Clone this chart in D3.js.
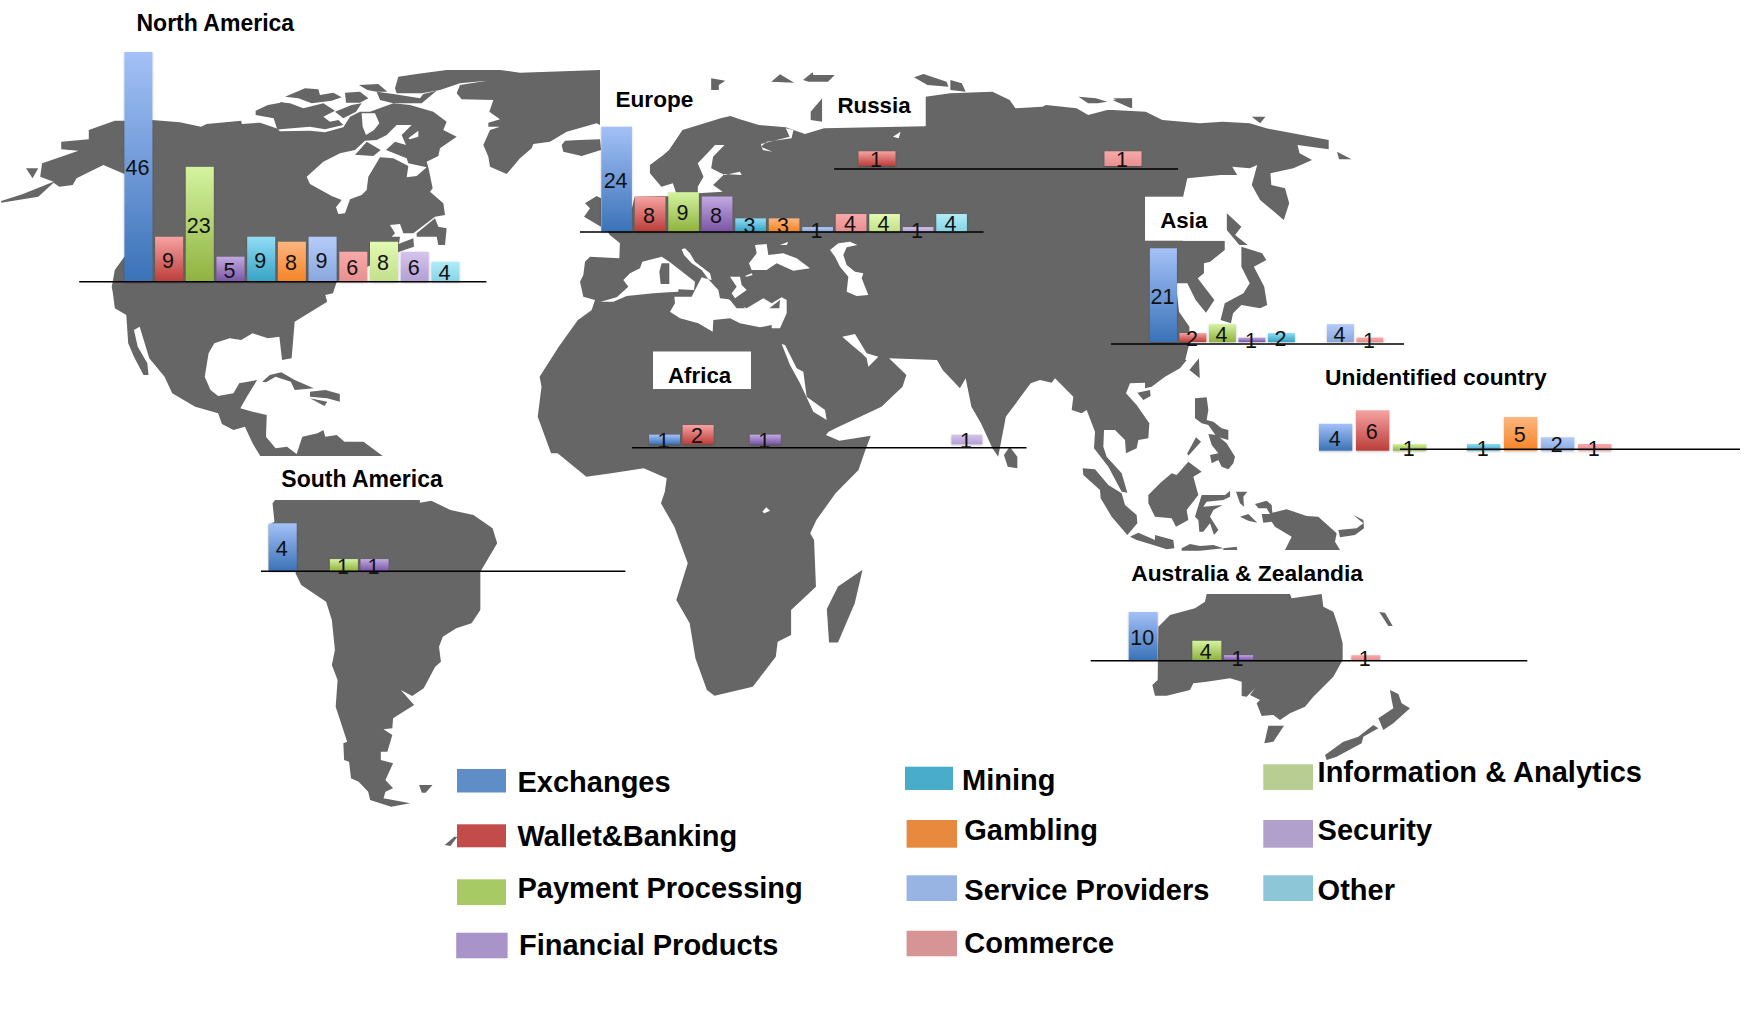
<!DOCTYPE html>
<html><head><meta charset="utf-8">
<script src="https://cdn.jsdelivr.net/npm/d3@7"></script>
<style>html,body{margin:0;padding:0;background:#fff}svg{display:block}text{font-family:"Liberation Sans",Arial,sans-serif}</style>
</head><body><svg id="chart" width="1752" height="1010"></svg>
<script>
// ---------- data ----------
const categories = ["Exchanges","Wallet&Banking","Payment Processing","Financial Products","Mining","Gambling","Service Providers","Commerce","Information & Analytics","Security","Other"];
const northAmerica = [46,9,23,5,9,8,9,6,8,6,4];
const europe       = [24,8,9,8,3,3,1,4,4,1,4];
const russia       = [0,1,0,0,0,0,0,1,0,0,0];
const asia         = [21,2,4,1,2,0,4,1,0,0,0];
const unidentified = [4,6,1,0,1,5,2,1,0,0,0];
const africa       = [1,2,0,1,0,0,0,0,0,1,0];
const southAmerica = [4,0,1,1,0,0,0,0,0,0,0];
const australia    = [10,0,4,1,0,0,0,1,0,0,0];
const regionNames  = ["North America","Europe","Russia","Asia","Unidentified country","Africa","South America","Australia & Zealandia"];
const regionValues = [northAmerica,europe,russia,asia,unidentified,africa,southAmerica,australia];

// ---------- layout and style (kept apart from the data) ----------
const panels = [
 {x0:124.4,pitch:30.7,w:28,  base:281.7,top:52,   axis:[79.2,486.4,281.7], title:[136.5,30.7,23]},
 {x0:601.3,pitch:33.5,w:30.6,base:231.5,top:126.7,axis:[580,983.6,232],    title:[615.5,106.7,22.6]},
 {x0:817.5,pitch:41,  w:37,  base:166,  top:151.3,axis:[834,1178,169],     title:[837.5,112.7,22.3]},
 {x0:1149.9,pitch:29.5,w:27, base:342,  top:248.3,axis:[1111,1404,344],    title:[1160.2,227.7,22.3]},
 {x0:1319,pitch:37,   w:33.3,base:450.7,top:410.3,axis:[1400,1740,449.3],  title:[1325,385,22.8]},
 {x0:649, pitch:33.6, w:31,  base:444.3,top:425,  axis:[632,1026.5,447.7], title:[668,383.3,22.3]},
 {x0:268.7,pitch:30.6,w:28,  base:571,  top:523.3,axis:[261,625.4,571.3],  title:[281.3,486.7,23]},
 {x0:1128.7,pitch:31.8,w:29, base:660,  top:612,  axis:[1090.7,1527.3,660.7],title:[1131.2,580.7,22.8]}
];
const barTop = ["#a4c1f7","#f6a3a1","#d4f3a0","#c2a9e2","#92dcf5","#fdb57f","#b4ccfb","#f7a9a8","#e2f9b2","#d5c4ed","#b0ecf8"];
const barBot = ["#3a72b8","#bb3d3a","#8fb23f","#7a55a5","#36a3c4","#f68427","#88a7dc","#e88f90","#c2e08c","#b39fd3","#86d4e6"];
const swatch = ["#5e8dc8","#c24c4a","#a8ca65","#a894c8","#49acca","#e88a3d","#97b4e2","#d79494","#b7cd91","#b1a0cb","#8cc6d7"];
const legendPos = [
 {x:457,y:769,w:49,h:23.5,tx:517.5,ty:792},{x:457,y:824.3,w:49,h:23,tx:517.5,ty:846},
 {x:457,y:879.3,w:49,h:25.7,tx:517.5,ty:898},{x:456.2,y:932.7,w:51.4,h:25.6,tx:519,ty:955},
 {x:905,y:766.7,w:48,h:23.3,tx:962,ty:790},{x:906.6,y:820,w:50.4,h:27.7,tx:964.3,ty:840},
 {x:906.6,y:875.3,w:50.4,h:25.7,tx:964.3,ty:900},{x:906.6,y:930.7,w:50.4,h:25.6,tx:964.3,ty:953},
 {x:1263.3,y:764.3,w:49.7,h:25.7,tx:1317.6,ty:781.7},{x:1263.3,y:820,w:49.7,h:27.7,tx:1317.6,ty:840},
 {x:1263.3,y:875.3,w:49.7,h:25.7,tx:1317.6,ty:900}
];
const labelBoxes = [[600.6,76,90,47],[822.5,88,103,38],[1145,196.7,80,44],[653,351.5,98,37.5]];

// ---------- base map silhouette (background artwork, traced per crop frame) ----------
const frames = {
 A:{ox:0,oy:0,sx:2.613,sy:3}, B:{ox:560,oy:40,sx:2.613,sy:3}, C:{ox:1100,oy:60,sx:2.405,sy:3},
 D:{ox:240,oy:450,sx:2.613,sy:3}, E:{ox:1060,oy:540,sx:3,sy:3}, M:{ox:580,oy:240,sx:3,sy:3},
 S:{ox:1040,oy:360,sx:3,sy:3}, H:{ox:280,oy:70,sx:3,sy:3}, F:{ox:0,oy:0,sx:0.895,sy:0.895}
};
const land = [
 // Americas north
 [["A",[3,608,3,603,60,582,125,552,140,545,105,530,110,490,160,470,205,452,160,448,160,425,232,418,232,390,300,362,330,362,397,360,470,367,525,380,540,372,630,362,632,372,680,368,722,385]],
  ["H",[0,184,90,182,135,187,190,172,210,140,240,125,270,125,340,100,390,105,460,125,500,155,490,180,530,200,480,235,475,258,440,275,445,292,458,355,450,365,490,400,495,435,465,440,400,490,370,490,360,462,330,465,345,490,335,500,360,500,358,515,355,522,400,505,402,530,358,545]],
  ["A",[960,800,880,845,870,880,850,885,855,905,770,965,762,1075,737,1080,730,1010,700,1015,660,1000,630,1020,600,1015,560,1030,545,1060,535,1130,550,1170,570,1188,610,1180,625,1150,672,1140,645,1190,628,1225,660,1235,697,1245,695,1310,720,1345,750,1340,775,1362,790,1310,830,1300,845,1290,850,1310,880,1305,900,1325,950,1325,1000,1368,680,1368,660,1330,640,1280,610,1290,580,1272,570,1240,510,1220,450,1180,430,1130,390,1075,365,980,350,990,360,1040,385,1090,388,1125,375,1125,350,1070,335,1030,330,945,300,925,295,880,292,860,300,810,325,770,360,770,360,522,325,522,270,495,200,535,190,555,155,560,140,548,100,590]]],
 // South America
 [["D",[85,160,92,150,470,150,470,158,500,152,550,180,610,195,660,235,672,280,628,365,628,480,605,520,565,535,530,560,520,590,525,635,510,650,480,715,450,738,420,720,455,765,400,805,398,835,375,838,398,855,385,905,368,905,368,930,400,940,380,990,400,1015,380,1025,375,1045,445,1060,395,1070,340,1050,335,1025,310,995,290,985,285,935,272,930,270,880,280,875,250,770,255,690,240,645,248,600,240,510,225,455,160,405,145,370,148,360,75,360,75,225,90,215]]],
 // Eurasia and Africa
 [["A",[1405,1250,1415,1160,1410,1130,1460,1040,1510,960,1555,925]],
  ["M",[0,235,35,210,45,180,10,170,0,125,10,105,15,65,30,50,118,55,120,0]],
  ["B",[157,610,130,585,125,575,120,570,150,500,188,505,195,470,270,468,295,470,305,465,295,430,265,440,235,400,235,375,270,345,285,330,320,270,420,235,445,228,470,238,520,255,590,262,640,282,690,265,955,259,955,170,1020,160,1130,155,1175,180,1190,205,1260,200,1270,195,1350,205,1380,225,1430,210]],
  ["C",[30,150,110,155,150,180,240,190,295,185,360,190,400,205,550,240,550,268,475,255,480,280,510,300,465,325,410,340,412,375,445,385,455,430,442,480,385,420,365,375,378,315,360,325,318,320,330,345,290,345,210,355,200,410,200,542,300,542,300,570,265,605,250,610,250,640,235,655,275,720,255,758,230,720,210,670,185,670,185,700,190,755,215,800,215,850,205,900]],
  ["S",[440,0,420,25,375,50,335,80,315,85,315,68,270,70,258,100,290,135,328,190,325,235,295,240,290,265,258,280,255,240,225,210,192,210,190,260,200,290,245,340,262,398,245,395,205,320,162,265,165,215,140,150,125,160,95,150,100,110,45,55,35,68,0,60]],
  ["B",[1230,1030,1165,1130,1145,1250,1130,1225,1100,1150,1075,1100,1060,1015,1045,1045,1000,990,985,960,860,955,905,1005,895,1040,840,1100,720,1165,702,1175,695,1185,730,1202,812,1187,795,1240,780,1290,720,1360,670,1440]],
  ["D",[1490,250,1500,270,1505,410,1440,480,1440,555,1405,575,1400,620,1340,710,1240,737,1220,720,1190,625,1175,520,1140,450,1170,340,1135,230,1100,160,1110,125,1115,85,1055,55,970,70,905,80,830,10]],
  ["A",[1440,1360]]],
 // Australia
 [["E",[440,162,690,162,695,175,785,162,790,200,820,215,835,260,848,310,848,360,820,410,760,470,735,500,690,520,660,540,640,525,605,528,590,490,600,480,570,465,585,445,560,470,545,468,545,425,510,415,440,425,400,430,390,450,320,467,285,467,277,435,293,420,295,260,330,225,405,205,435,185]]]
];
const water = [
 ["H",[245,130,285,130,298,160,282,180,258,195,248,170]],
 ["H",[318,240,345,215,378,225,365,195,395,165,350,165,320,195,290,210,255,212,225,240,180,250,130,275,80,320,90,342,155,378,185,390,168,412,175,432,195,430,210,388,245,375,260,360,265,320,300,262,340,265,385,288,380,322,410,318,440,292,385,280,380,265]],
 ["H",[385,205,415,182,415,200,390,208]],
 ["M",[62,185,110,172,145,140,130,120,150,100,180,85,187,65,245,50,268,65,300,90,345,125,342,150,295,148,295,155,265,157,220,160,140,168,100,185]],
 ["M",[283,170,335,170,345,150,365,112,385,118,415,150,420,175,445,178,500,205,550,175,575,190,605,172,620,180,620,220,600,265,575,265,575,255,540,262,480,250,450,235,400,240,398,275,355,250,300,235,270,215,285,190]],
 ["M",[305,28,315,25,330,40,345,65,390,100,395,120,385,118,365,90,335,70,312,45]],
 ["M",[450,110,480,110,485,135,500,150,465,175,455,160,470,140]],
 ["M",[507,70,530,40,525,15,560,12,565,45,610,40,650,55,690,85,640,92,590,70,560,90,515,90]],
 ["M",[600,15,625,5,620,15]],
 ["M",[495,108,515,100,518,105,500,110]],
 ["M",[750,30,775,10,810,5,832,15,800,22,790,45,800,75,825,95,850,100,845,115,865,165,830,168,800,155,805,110,780,80,765,50]],
 ["M",[605,312,615,315,650,385,670,395,680,470,735,510,740,540,700,515,660,430,630,375]],
 ["M",[787,290,825,282,860,340,895,350,865,380,860,355,845,340,815,315]],
 ["B",[590,265,610,270,605,295,540,305,525,320,555,335,530,330,525,312,600,290]],
 ["B",[405,315,430,315,400,350,395,385,430,405,470,395,475,405,430,402,400,435,425,455,360,460,360,440,375,410,360,370,385,340]],
 ["B",[870,290,890,275,885,295]],
 ["D",[1365,185,1375,172,1385,182,1370,190]]
];
const islands = [
 ["A",[68,505,100,505,85,535]],
 ["A",[668,332,700,315,740,307,740,385,725,390,715,355,668,345]],
 ["H",[15,80,75,55,115,58,120,75,160,68,185,82,155,92,95,100,55,85]],
 ["H",[195,68,240,65,265,85,240,98,198,98]],
 ["H",[237,45,295,42,322,65,290,65,262,60]],
 ["H",[290,65,340,72,420,85,430,72,470,62,425,100,340,100,300,90]],
 ["H",[0,97,30,100,70,115,130,100,165,122,130,140,150,155,175,150,190,165,135,178,90,170,0,178]],
 ["H",[165,125,215,105,245,100,228,125,190,145]],
 ["H",[225,255,260,215,302,240,280,258,235,255]],
 ["H",[345,55,355,20,410,12,500,0,660,0,720,8,960,0,960,165,950,160,860,185,810,215,760,222,755,235,720,265,680,312,630,290,625,260,610,225,630,180,660,170,625,170,625,158,660,148,628,125,640,90,545,88,530,70,540,45,620,32,540,40,480,60,425,70,350,70]],
 ["H",[845,225,855,212,900,210,960,208,963,240,905,258,850,245]],
 ["H",[915,400,950,378,963,385,963,470,912,440,930,415]],
 ["H",[410,490,465,445,475,470,500,475,495,525,475,525,470,500,410,500]],
 ["A",[685,1145,705,1125,735,1117,770,1140,820,1165,770,1170,760,1145,720,1130,695,1147]],
 ["A",[810,1175,850,1170,888,1182,888,1205,855,1195,810,1190]],
 ["A",[810,1195,855,1205,848,1218]],
 ["M",[245,70,268,70,268,132,242,132,238,95]],
 ["M",[450,180,480,185,495,205,470,205]],
 ["M",[568,205,600,180,598,205]],
 ["B",[395,115,432,122,415,135,415,150,395,150]],
 ["B",[552,125,575,103,612,128]],
 ["B",[635,120,660,97,662,105,718,105,700,125,650,125]],
 ["B",[655,215,685,175,685,245,655,240]],
 ["B",[925,112,950,102,1010,125,1015,140,960,135]],
 ["B",[1020,120,1050,130,1060,155,1020,150]],
 ["B",[1355,170,1400,175,1430,185,1405,190,1380,190]],
 ["B",[1445,175,1495,175,1495,205]],
 ["B",[1175,1220,1195,1250,1195,1285,1170,1280,1160,1245]],
 ["C",[30,120,75,115,75,145]],
 ["C",[365,170,398,170,385,190]],
 ["C",[570,275,605,298,575,298]],
 ["C",[305,460,340,500,325,525,355,555,335,555,305,510]],
 ["C",[340,560,390,580,400,600,370,620,395,680,402,735,385,745,340,735,320,760,315,790,290,780,300,730,345,700,360,670,340,620]],
 ["C",[238,895,240,955,215,930]],
 ["S",[292,98,330,90,332,108,310,120]],
 ["S",[465,115,500,112,505,150,500,180,520,185,545,205,565,210,565,240,530,230,505,195,485,190,465,175]],
 ["S",[505,222,530,225,560,250,585,290,580,310,565,328,545,320,535,300,515,310,510,285,535,280,515,255]],
 ["S",[468,232,483,245,445,287,442,280]],
 ["S",[128,325,165,328,205,375,245,400,255,435,290,465,292,490,262,525,215,470,182,415,180,390,130,345]],
 ["S",[270,530,295,518,345,540,345,525,400,540,403,565,380,568,340,555,290,540]],
 ["S",[425,565,450,552,480,558,520,555,550,565,480,572,425,572]],
 ["S",[550,565,590,560,592,570,550,570]],
 ["S",[325,405,360,370,395,340,410,345,445,305,485,335,460,350,475,405,440,450,445,480,408,500,395,475,345,470,325,430]],
 ["S",[485,405,555,405,570,392,570,410,550,420,500,425,490,440,548,435,520,450,510,470,535,510,522,525,510,490,490,515,478,515,475,480,465,470]],
 ["S",[588,395,622,395,610,410,612,440,600,430]],
 ["S",[600,470,625,462,652,488,625,482]],
 ["S",[645,432,680,422,695,435,697,458,740,448,800,468,835,470,890,520,885,545,900,570,735,570,755,530,705,500,695,485,670,488,665,462,690,462,680,445,655,445]],
 ["S",[895,510,950,505,970,490,940,465,970,480,972,505,945,525,900,532]],
 ["D",[468,1005,503,1005,485,1028,475,1028]],
 ["D",[535,1185,560,1160,568,1160,550,1188]],
 ["F",[772,510,765,540,750,575,742,575,740,545,750,525]],
 ["E",[625,557,672,557,640,605,613,610]],
 ["E",[958,216,975,218,998,258,985,258]],
 ["E",[990,450,1015,462,1025,490,1050,505,1000,550,970,570,955,535,1000,505,995,480]],
 ["E",[940,555,955,565,910,590,905,610,830,650,800,660,795,645,850,605,895,590]]
];

// ---------- drawing ----------
const svg = d3.select("#chart");
const defs = svg.append("defs");
const shadow = defs.append("filter").attr("id","barShadow").attr("x","-20%").attr("y","-20%").attr("width","140%").attr("height","140%");
shadow.append("feDropShadow").attr("dx",0).attr("dy",1).attr("stdDeviation",1).attr("flood-color","#000").attr("flood-opacity",0.25);
categories.forEach((c,i)=>{
  const g = defs.append("linearGradient").attr("id","grad"+i).attr("x1",0).attr("y1",0).attr("x2",0).attr("y2",1);
  g.append("stop").attr("offset","0%").attr("stop-color",barTop[i]);
  g.append("stop").attr("offset","100%").attr("stop-color",barBot[i]);
});
const toPoints = (frame,arr)=>{
  const f = frames[frame], pts = [];
  for(let i=0;i<arr.length;i+=2) pts.push([f.ox+arr[i]/f.sx, f.oy+arr[i+1]/f.sy]);
  return pts;
};
const line = d3.line().curve(d3.curveLinear);
const ring = segs => line(segs.flatMap(([f,a])=>toPoints(f,a)))+"Z";
const GREY = "#666666";
const map = svg.append("g").attr("class","map");
map.selectAll("path.land").data(land).join("path").attr("class","land").attr("d",ring).attr("fill",GREY);
map.selectAll("path.water").data(water).join("path").attr("class","water").attr("d",d=>ring([d])).attr("fill","#fff");
map.selectAll("path.island").data(islands).join("path").attr("class","island").attr("d",d=>ring([d])).attr("fill",GREY);
svg.append("g").selectAll("rect").data(labelBoxes).join("rect")
  .attr("x",d=>d[0]).attr("y",d=>d[1]).attr("width",d=>d[2]).attr("height",d=>d[3]).attr("fill","#fff");

regionNames.forEach((name,r)=>{
  const p = panels[r], vals = regionValues[r];
  const x = d3.scaleBand().domain(categories)
     .range([p.x0, p.x0+p.pitch*categories.length-(p.pitch-p.w)])
     .paddingInner(1-p.w/p.pitch).paddingOuter(0);
  const y = d3.scaleLinear().domain([0,d3.max(vals)]).range([p.base,p.top]);
  const rows = categories.map((c,i)=>({c,i,v:vals[i]})).filter(d=>d.v>0);
  const g = svg.append("g").attr("class","panel");
  g.selectAll("rect").data(rows).join("rect")
    .attr("x",d=>x(d.c)).attr("y",d=>y(d.v)).attr("width",x.bandwidth()).attr("height",d=>y(0)-y(d.v))
    .attr("fill",d=>`url(#grad${d.i})`).attr("filter","url(#barShadow)");
  g.append("line").attr("x1",p.axis[0]).attr("x2",p.axis[1]).attr("y1",p.axis[2]).attr("y2",p.axis[2])
    .attr("stroke","#000").attr("stroke-width",1.5);
  g.selectAll("text.val").data(rows).join("text").attr("class","val")
    .attr("x",d=>x(d.c)+x.bandwidth()/2-1).attr("y",d=>(y(d.v)+y(0))/2+1).attr("dy","0.35em")
    .attr("text-anchor","middle").attr("font-size",21.5).attr("fill","#111").text(d=>d.v);
  svg.append("text").attr("x",p.title[0]).attr("y",p.title[1]).attr("font-size",p.title[2]).attr("font-weight","bold").attr("fill","#000").text(name);
});

const lg = svg.append("g").attr("class","legend");
lg.selectAll("rect").data(categories).join("rect")
  .attr("x",(d,i)=>legendPos[i].x).attr("y",(d,i)=>legendPos[i].y).attr("width",(d,i)=>legendPos[i].w).attr("height",(d,i)=>legendPos[i].h)
  .attr("fill",(d,i)=>swatch[i]);
lg.selectAll("text").data(categories).join("text")
  .attr("x",(d,i)=>legendPos[i].tx).attr("y",(d,i)=>legendPos[i].ty)
  .attr("font-size",29).attr("font-weight","bold").attr("fill","#000").text(d=>d);
</script></body></html>
